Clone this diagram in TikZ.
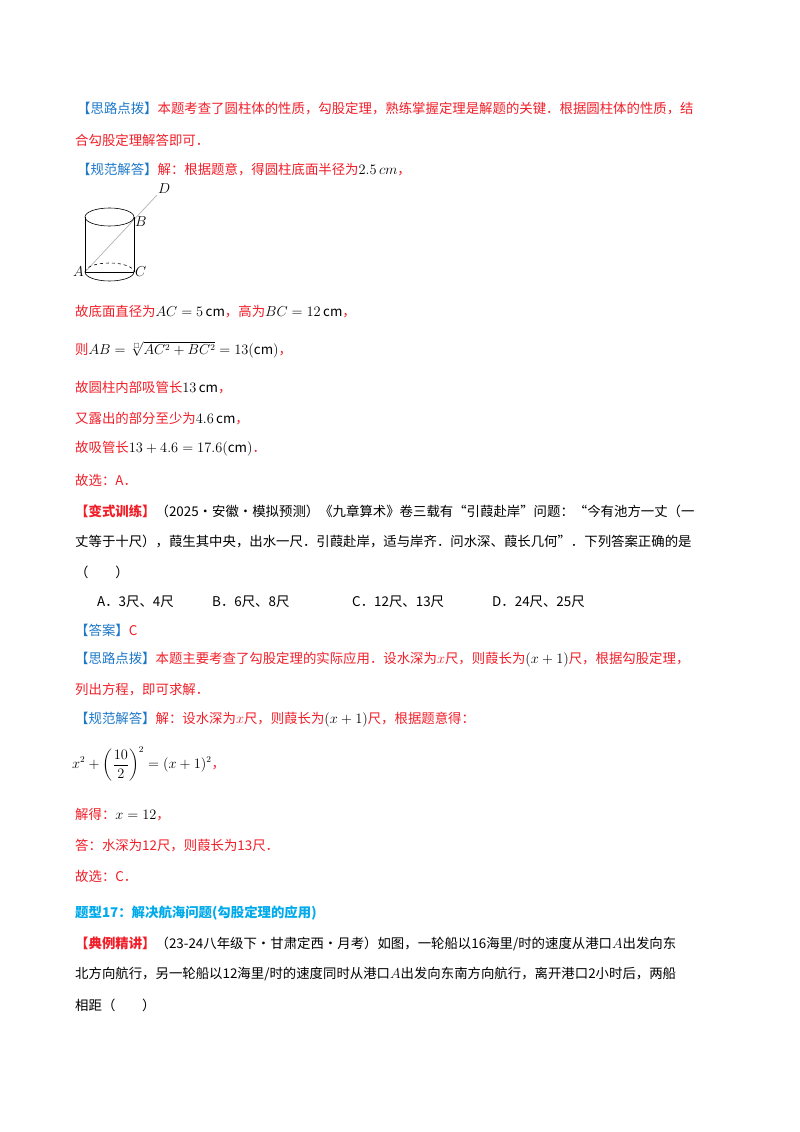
\documentclass[tikz,border=0pt]{standalone}
\usepackage{fontspec}
\usepackage{amsmath,amssymb}
\setmainfont{Noto Sans CJK SC}
\definecolor{rd}{RGB}{240,30,40}
\definecolor{lb}{RGB}{30,120,200}
\definecolor{cy}{RGB}{0,170,235}
\newcommand\bl[1]{\textcolor{lb}{#1}}
\newcommand\cmu{\,\mathrm{cm}}
\begin{document}
\begin{tikzpicture}[x=1pt,y=-1pt,
  t/.style={anchor=west,inner sep=0pt,font=\fontsize{13.4}{16}\selectfont},
  r/.style={t,text=rd},
  k/.style={t,text=black},
  lab/.style={inner sep=1pt,font=\fontsize{14}{15}\selectfont}]
\useasboundingbox (0,0) rectangle (800,1132);
\node[r] (l1) at (77,109) {\bl{【思路点拨】}本题考查了圆柱体的性质，勾股定理，熟练掌握定理是解题的关键．根据圆柱体的性质，结};
\node[r] (l2) at (75,140) {合勾股定理解答即可．};
\node[r] (l3) at (77,170) {\bl{【规范解答】}解：根据题意，得圆柱底面半径为\textcolor{black}{$2.5\,cm$}，};
% cylinder
\coordinate (A) at (85,272);
\coordinate (C) at (134,272);
\coordinate (D) at (157,195);
\draw[gray!60,line width=0.7pt] (A) -- (D);
\draw[line width=0.6pt] (109.5,217) ellipse [x radius=24.5,y radius=9];
\draw[line width=0.6pt] (85,217) -- (A) (134,217) -- (C);
\draw[line width=0.6pt] (A) arc[start angle=180,end angle=0,x radius=24.5,y radius=9];
\draw[line width=0.6pt,dashed] (A) arc[start angle=180,end angle=360,x radius=24.5,y radius=9];
\draw[line width=0.6pt] (A) -- (C);
\node[lab,anchor=east] (la) at (A) {$A$};
\node[lab,anchor=west] (lc) at (C) {$C$};
\node[lab,anchor=south west] (ld) at (D) {$D$};
\node[lab,anchor=west] (lbb) at (134,222) {$B$};
\node[r] (l4) at (75,312) {故底面直径为\textcolor{black}{$AC=5\cmu$}，高为\textcolor{black}{$BC=12\cmu$}，};
\node[r] (l5) at (75,350) {则\textcolor{black}{$AB=\sqrt[\scriptscriptstyle\square]{AC^2+BC^2}=13(\mathrm{cm})$}，};
\node[r] (l6) at (75,388) {故圆柱内部吸管长\textcolor{black}{$13\cmu$}，};
\node[r] (l7) at (75,419) {又露出的部分至少为\textcolor{black}{$4.6\cmu$}，};
\node[r] (l8) at (75,449) {故吸管长\textcolor{black}{$13+4.6=17.6(\mathrm{cm})$}．};
\node[r] (l9) at (75,480) {故选：A．};
\node[k] (l10) at (75,511) {\textcolor{rd}{\bfseries【变式训练】}（2025·安徽·模拟预测）《九章算术》卷三载有“引葭赴岸”问题：“今有池方一丈（一};
\node[k] (l11) at (75,541) {丈等于十尺），葭生其中央，出水一尺．引葭赴岸，适与岸齐．问水深、葭长几何”．下列答案正确的是};
\node[k] (l12) at (75,572) {（\hspace{2em}）};
\node[k] (oa) at (97,602) {A．3尺、4尺};
\node[k] (ob) at (212,602) {B．6尺、8尺};
\node[k] (oc) at (352,602) {C．12尺、13尺};
\node[k] (od) at (492,602) {D．24尺、25尺};
\node[r] (l13) at (75,630) {\bl{【答案】}C};
\node[r] (l14) at (75,660) {\bl{【思路点拨】}本题主要考查了勾股定理的实际应用．设水深为$x$尺，则葭长为\textcolor{black}{$(x+1)$}尺，根据勾股定理，};
\node[r] (l15) at (75,690) {列出方程，即可求解．};
\node[r] (l16) at (75,720) {\bl{【规范解答】}解：设水深为$x$尺，则葭长为\textcolor{black}{$(x+1)$}尺，根据题意得：};
\node[r] (l17) at (72,764) {\textcolor{black}{$\displaystyle x^2+\left(\frac{10}{2}\right)^2=(x+1)^2$}，};
\node[r] (l18) at (75,815) {解得：\textcolor{black}{$x=12$}，};
\node[r] (l19) at (75,846) {答：水深为12尺，则葭长为13尺．};
\node[r] (l20) at (75,876) {故选：C．};
\node[t,text=cy,font=\bfseries\fontsize{13.4}{16}\selectfont] (h) at (75,913) {题型17：解决航海问题(勾股定理的应用)};
\node[k] (l21) at (75,944) {\textcolor{rd}{\bfseries【典例精讲】}（23-24八年级下·甘肃定西·月考）如图，一轮船以16海里/时的速度从港口$A$出发向东};
\node[k] (l22) at (75,974) {北方向航行，另一轮船以12海里/时的速度同时从港口$A$出发向东南方向航行，离开港口2小时后，两船};
\node[k] (l23) at (75,1005) {相距（\hspace{2em}）};
\end{tikzpicture}
\end{document}
